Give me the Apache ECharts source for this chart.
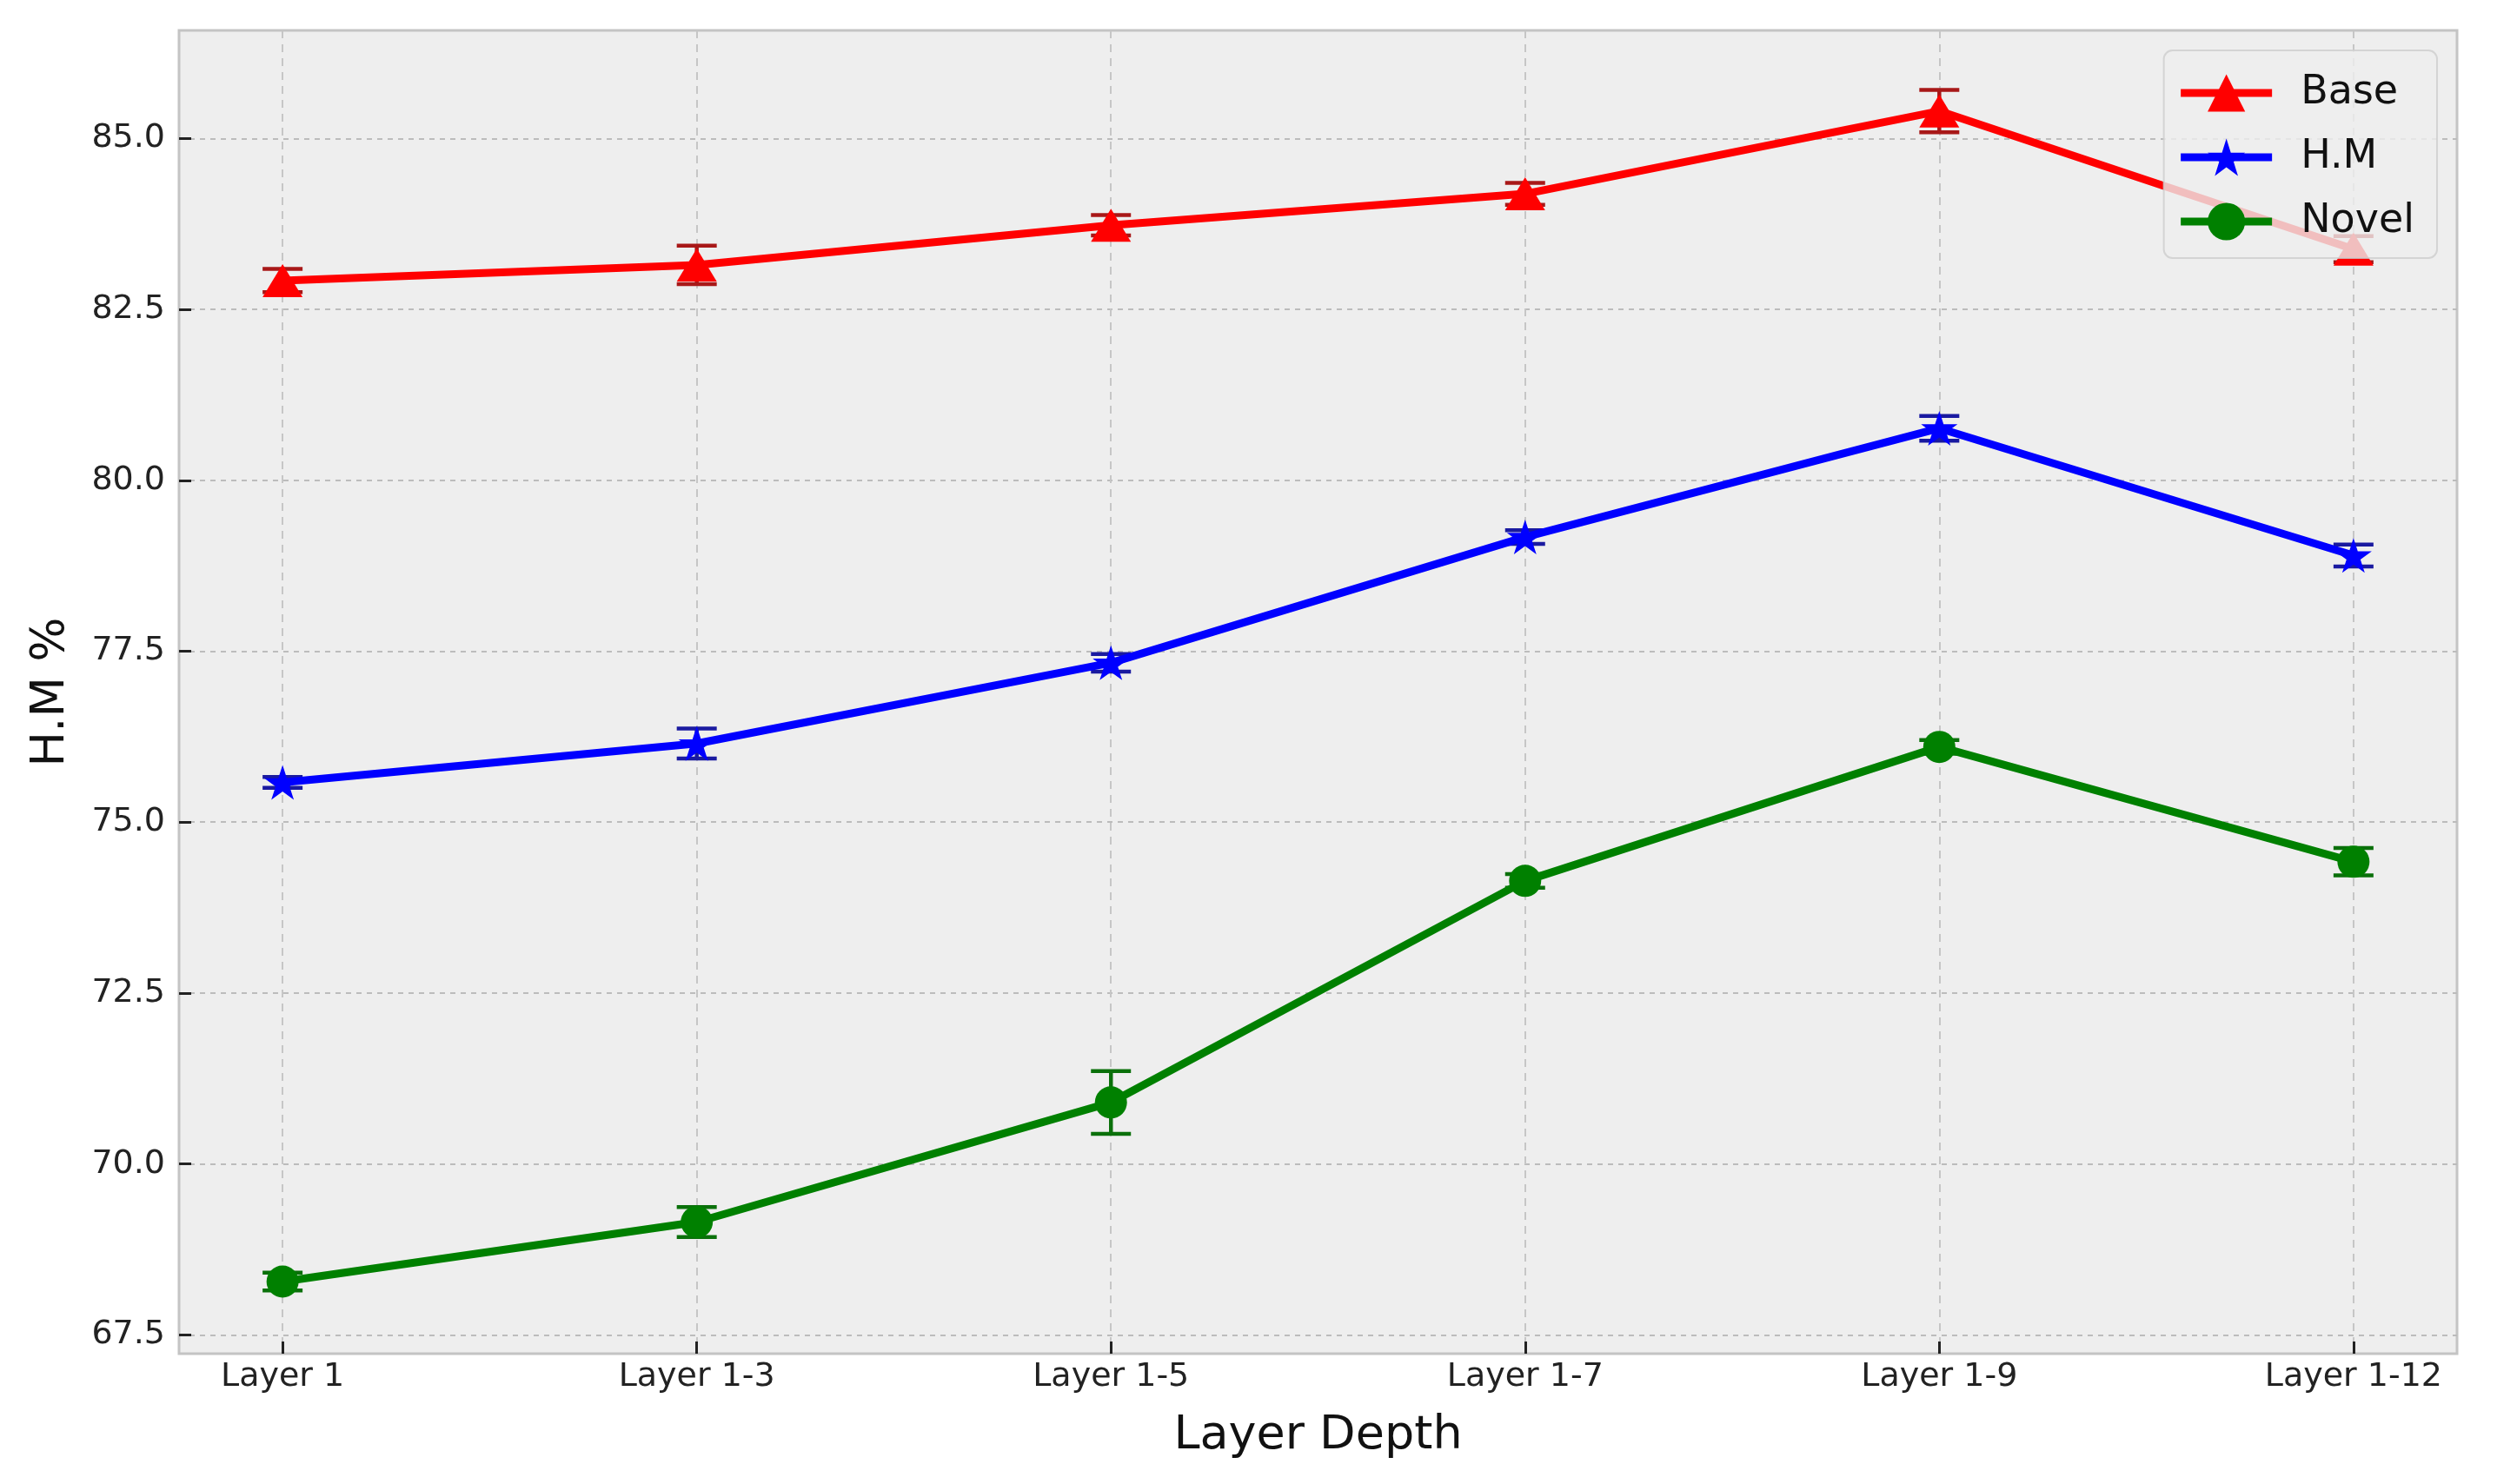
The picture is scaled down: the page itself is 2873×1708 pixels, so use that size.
<!DOCTYPE html>
<html>
<head>
<meta charset="utf-8">
<script src="https://cdn.jsdelivr.net/npm/echarts@6/dist/echarts.min.js"></script>
<style>
html,body{margin:0;padding:0;background:#fff;}
#chart{width:2873px;height:1708px;}
</style>
</head>
<body>
<div id="chart"></div>
<script>
const categories = ['Layer 1', 'Layer 1-3', 'Layer 1-5', 'Layer 1-7', 'Layer 1-9', 'Layer 1-12'];
const baseValues = [82.92, 83.15, 83.73, 84.19, 85.40, 83.38];
const baseErr = [0.17, 0.28, 0.15, 0.16, 0.31, 0.19];
const hmValues = [75.58, 76.15, 77.33, 79.17, 80.76, 78.90];
const hmErr = [0.08, 0.22, 0.13, 0.10, 0.18, 0.16];
const novelValues = [68.28, 69.15, 70.90, 74.14, 76.10, 74.42];
const novelErr = [0.13, 0.22, 0.46, 0.10, 0.10, 0.20];
const yTicks = [67.5, 70.0, 72.5, 75.0, 77.5, 80.0, 82.5, 85.0];
const xTicks = [0, 1, 2, 3, 4, 5];

const FONT = 'DejaVu Sans';
const starPath = 'path://M50,0 L61.2,34.5 L97.6,34.5 L68.2,55.9 L79.4,90.5 L50,69.1 L20.6,90.5 L31.8,55.9 L2.4,34.5 L38.8,34.5 Z';

function pts(vals) { return vals.map((v, i) => [i, v]); }
function errPts(vals, errs) { return vals.map((v, i) => [i, v, errs[i]]); }

function errSeries(name, vals, errs, color) {
  return {
    type: 'custom',
    name: name,
    z: 1,
    silent: true,
    data: errPts(vals, errs),
    renderItem: function (params, api) {
      const x = api.value(0), y = api.value(1), e = api.value(2);
      const top = api.coord([x, y + e]);
      const bot = api.coord([x, y - e]);
      const hw = 23;
      const st = { stroke: color, lineWidth: 4.5 };
      return {
        type: 'group',
        children: [
          { type: 'line', shape: { x1: top[0], y1: top[1], x2: bot[0], y2: bot[1] }, style: st },
          { type: 'line', shape: { x1: top[0] - hw, y1: top[1], x2: top[0] + hw, y2: top[1] }, style: st },
          { type: 'line', shape: { x1: bot[0] - hw, y1: bot[1], x2: bot[0] + hw, y2: bot[1] }, style: st }
        ]
      };
    }
  };
}

function lineSeries(name, vals, color, symbol, size) {
  return {
    type: 'line',
    name: name,
    z: 3,
    data: pts(vals),
    symbol: symbol,
    symbolSize: size,
    showAllSymbol: true,
    lineStyle: { color: color, width: 9 },
    itemStyle: { color: color, borderWidth: 0 },
    emphasis: { disabled: true },
    animation: false
  };
}

const chart = echarts.init(document.getElementById('chart'));
chart.setOption({
  animation: false,
  backgroundColor: '#ffffff',
  grid: {
    left: 206, right: 46, top: 35, bottom: 150,
    show: true, backgroundColor: '#eeeeee', borderColor: '#c4c4c4', borderWidth: 3
  },
  legend: {
    data: ['Base', 'H.M', 'Novel'],
    orient: 'vertical',
    right: 69, top: 58,
    padding: [26, 26, 19, 15],
    itemWidth: 105, itemHeight: 54,
    itemGap: 28,
    backgroundColor: 'rgba(238,238,238,0.8)',
    borderColor: 'rgba(205,205,205,0.8)',
    borderWidth: 2,
    borderRadius: 10,
    lineStyle: { width: 9 },
    textStyle: { fontFamily: FONT, fontSize: 46, color: '#111', padding: [0, 0, 0, 28] },
    z: 10
  },
  xAxis: {
    type: 'value',
    min: -0.25, max: 5.25,
    name: 'Layer Depth',
    nameLocation: 'middle',
    nameGap: 68,
    nameTextStyle: { fontFamily: FONT, fontSize: 54, color: '#111' },
    axisLine: { show: false },
    axisTick: { show: true, inside: true, length: 14, customValues: xTicks, lineStyle: { color: '#222', width: 3 } },
    axisLabel: {
      customValues: xTicks,
      fontFamily: FONT, fontSize: 38, color: '#222', margin: 8,
      formatter: function (v) { return categories[Math.round(v)]; }
    },
    splitLine: { show: true, lineStyle: { color: '#c6c6c6', width: 2, type: [9, 7] } }
  },
  yAxis: {
    type: 'value',
    min: 67.225, max: 86.58,
    name: 'H.M %',
    nameLocation: 'middle',
    nameGap: 120,
    nameRotate: 90,
    nameTextStyle: { fontFamily: FONT, fontSize: 54, color: '#111' },
    axisLine: { show: false, onZero: false },
    axisTick: { show: true, inside: true, length: 14, customValues: yTicks, lineStyle: { color: '#222', width: 3 } },
    axisLabel: {
      customValues: yTicks,
      fontFamily: FONT, fontSize: 38, color: '#222', margin: 16,
      formatter: function (v) { return v.toFixed(1); }
    },
    splitLine: { show: true, lineStyle: { color: '#bcbcbc', width: 2, type: [6, 6] } }
  },
  series: [
    errSeries('Base err', baseValues, baseErr, '#a81818'),
    errSeries('H.M err', hmValues, hmErr, '#1a1aa0'),
    errSeries('Novel err', novelValues, novelErr, '#0a700a'),
    lineSeries('Base', baseValues, '#ff0000', 'triangle', [46, 38]),
    lineSeries('H.M', hmValues, '#0000ff', starPath, [42, 40]),
    lineSeries('Novel', novelValues, '#008000', 'circle', 37)
  ]
});
</script>
</body>
</html>
